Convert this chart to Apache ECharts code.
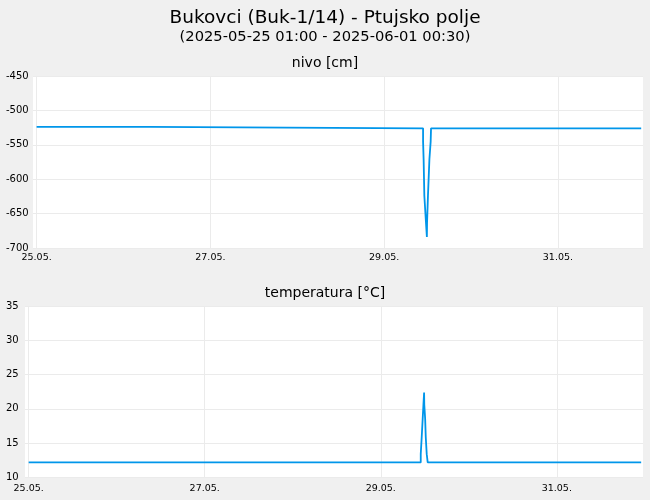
<!DOCTYPE html>
<html lang="sl">

<head>
    <meta charset="UTF-8">
    <title>Bukovci (Buk-1/14) - Ptujsko polje</title>
    <script src="https://cdn.jsdelivr.net/npm/echarts@6.0.0/dist/echarts.min.js"></script>
    <style>
        html, body { margin: 0; padding: 0; background: #f0f0f0; }
        #chart { width: 650px; height: 500px; }
    </style>
</head>

<body>
    <div id="chart"></div>
    <script type="text/javascript">
        // podatki (odčitani s slike)
        var startTime = '2025-05-25 01:00';
        var endTime = '2025-06-01 00:30';
        var dayTicks = ['2025-05-25 01:00', '2025-05-27 01:00', '2025-05-29 01:00', '2025-05-31 01:00'];
        var dayLabels = ['25.05.', '27.05.', '29.05.', '31.05.'];

        // nivo [cm] - prelomne točke stopničaste črte
        var nivoTimes = ['2025-05-25 01:00', '2025-05-26 08:30', '2025-05-29 11:45', '2025-05-29 11:54',
            '2025-05-29 12:06', '2025-05-29 12:33', '2025-05-29 12:48', '2025-05-29 12:51',
            '2025-05-29 13:06', '2025-05-29 13:30', '2025-05-29 13:51', '2025-05-29 13:57',
            '2025-06-01 00:00'];
        var nivoValues = [-524, -526, -545, -571, -624, -663, -684, -663, -624, -571, -545, -526, -526];

        // temperatura [°C]
        var tempTimes = ['2025-05-25 01:00', '2025-05-29 11:54', '2025-05-29 12:10', '2025-05-29 12:26',
            '2025-05-29 12:38', '2025-05-29 12:49', '2025-05-29 12:52', '2025-05-29 13:06',
            '2025-05-29 13:16', '2025-05-29 13:32', '2025-05-29 13:48', '2025-06-01 00:00'];
        var tempValues = [12.2, 13.4, 15.9, 18.6, 20.6, 22.4, 20.6, 18.6, 15.9, 13.4, 12.2, 12.2];

        function hours(s) {
            // ure od začetka meritev
            var t0 = Date.parse(startTime.replace(' ', 'T') + ':00Z');
            return (Date.parse(s.replace(' ', 'T') + ':00Z') - t0) / 3600000;
        }

        // vrednost velja do naslednje meritve -> stopnice
        function steps(times, values) {
            var arr = [];
            for (var i = 0; i < times.length; i++) {
                var h = hours(times[i]);
                if (i > 0) arr.push([h, values[i - 1]]);
                arr.push([h, values[i]]);
            }
            return arr;
        }

        var tickHours = dayTicks.map(hours);
        var font = 'DejaVu Sans';

        function xAxis(gridIndex, margin) {
            return {
                type: 'value',
                gridIndex: gridIndex,
                min: -1,
                max: 167.5,
                axisLine: { show: false },
                axisTick: { show: false, customValues: tickHours },
                splitLine: { show: true, customValues: tickHours, lineStyle: { color: '#ebebeb', width: 1 } },
                axisLabel: {
                    customValues: tickHours,
                    margin: margin,
                    fontFamily: font,
                    fontSize: 9.5,
                    color: '#000',
                    formatter: function (v) {
                        var i = tickHours.indexOf(v);
                        return i >= 0 ? dayLabels[i] : '';
                    }
                }
            };
        }

        function yAxis(gridIndex, min, max, interval, margin) {
            return {
                type: 'value',
                gridIndex: gridIndex,
                min: min,
                max: max,
                interval: interval,
                axisLine: { show: false },
                axisTick: { show: false },
                splitLine: { lineStyle: { color: '#ebebeb', width: 1 } },
                axisLabel: {
                    align: 'left',
                    margin: margin,
                    fontFamily: font,
                    fontSize: 10,
                    color: '#000'
                }
            };
        }

        var myChart = echarts.init(document.getElementById('chart'));
        var option = {
            backgroundColor: '#f0f0f0',
            animation: false,
            title: [
                { text: 'Bukovci (Buk-1/14) - Ptujsko polje', left: 'center', top: 4,
                  textStyle: { fontFamily: font, fontSize: 18.5, fontWeight: 'normal', color: '#000' } },
                { text: '(' + startTime + ' - ' + endTime + ')', left: 'center', top: 25,
                  textStyle: { fontFamily: font, fontSize: 14.7, fontWeight: 'normal', color: '#000' } },
                { text: 'nivo [cm]', left: 'center', top: 51,
                  textStyle: { fontFamily: font, fontSize: 14, fontWeight: 'normal', color: '#000' } },
                { text: 'temperatura [°C]', left: 'center', top: 281,
                  textStyle: { fontFamily: font, fontSize: 14, fontWeight: 'normal', color: '#000' } }
            ],
            grid: [
                { left: 33, right: 7, top: 76, height: 172, show: true, backgroundColor: '#fff', borderWidth: 0 },
                { left: 25, right: 7, top: 306, height: 171.5, show: true, backgroundColor: '#fff', borderWidth: 0 }
            ],
            xAxis: [xAxis(0, 5), xAxis(1, 6)],
            yAxis: [yAxis(0, -700, -450, 50, 27), yAxis(1, 10, 35, 5, 19)],
            series: [
                {
                    name: 'nivo',
                    type: 'line',
                    xAxisIndex: 0,
                    yAxisIndex: 0,
                    showSymbol: false,
                    lineStyle: { color: '#0096ea', width: 1.8 },
                    data: steps(nivoTimes, nivoValues)
                },
                {
                    name: 'temperatura',
                    type: 'line',
                    xAxisIndex: 1,
                    yAxisIndex: 1,
                    showSymbol: false,
                    lineStyle: { color: '#0096ea', width: 1.8 },
                    data: steps(tempTimes, tempValues)
                }
            ]
        };
        myChart.setOption(option);
    </script>
</body>

</html>
